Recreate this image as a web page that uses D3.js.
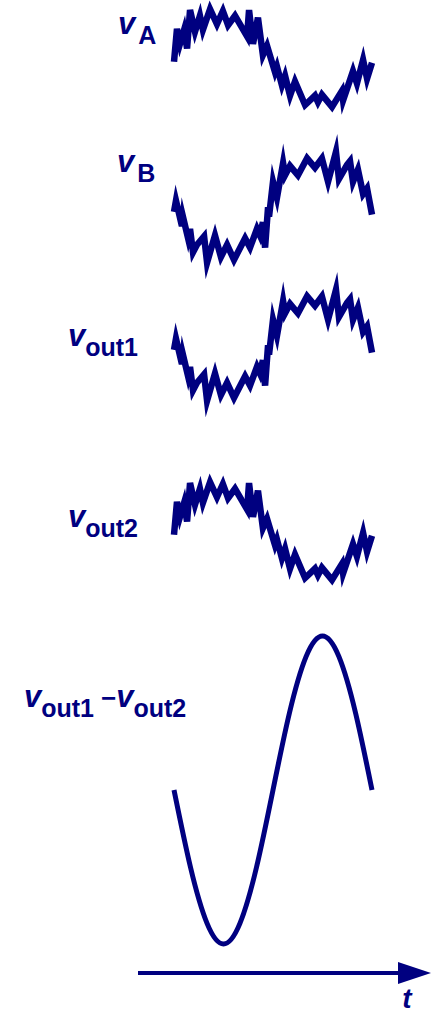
<!DOCTYPE html>
<html>
<head>
<meta charset="utf-8">
<script src="https://cdn.jsdelivr.net/npm/d3@7"></script>
<style>
body { margin: 0; background: #fff; }
svg { display: block; }
text { font-family: "Liberation Sans", Arial, sans-serif; font-weight: bold; fill: #000080; }
</style>
</head>
<body>
<div id="vis"></div>
<script>
// noisy input A (signal + common-mode noise)
var tA = [0, .015, .030, .051, .066, .081, .106, .131, .146, .182, .217, .247, .273, .308, .369, .379, .399, .424, .449, .470,
          .510, .520, .545, .561, .586, .611, .662, .712, .727, .747, .798, .848, .854, .904, .924, .955, .975, 1];
var vA = [-0.08, 0.62, 0.30, 0.60, 0.20, 1.02, 0.56, 0.90, 0.60, 1.04, 0.72, 1.00, 0.70, 0.90, 0.46, 1.02, 0.30, 0.86, 0.06, 0.26,
          -0.30, -0.18, -0.58, -0.38, -0.80, -0.50, -1.00, -0.80, -0.94, -0.78, -1.04, -0.70, -0.90, -0.28, -0.54, -0.04, -0.44, -0.10];

// noisy input B (inverted signal + same noise)
var tB = [0, .010, .040, .045, .071, .081, .096, .116, .152, .167, .207, .237, .268, .303, .359, .384, .419, .434, .449, .460,
          .475, .480, .500, .520, .551, .561, .586, .626, .672, .712, .747, .778, .818, .833, .874, .889, .904, .929, .955, .975, 1];
var vB = [-0.04, 0.20, -0.34, -0.14, -0.60, -0.40, -0.90, -0.74, -0.56, -1.12, -0.54, -1.00, -0.74, -1.06, -0.60, -0.80, -0.40, -0.54, -0.26, -0.80,
          0.06, -0.14, 0.60, 0.26, 1.00, 0.74, 0.94, 0.74, 1.10, 0.90, 1.10, 0.60, 1.24, 0.66, 0.96, 1.04, 0.60, 0.86, 0.34, 0.46, -0.10];

// outputs: vout1 follows vB, vout2 follows vA
var vOut1 = vB, vOut2 = vA;

// difference vout1 - vout2 : noise cancels
var tD = [0, .083, .167, .25, .333, .417, .5, .583, .667, .75, .833, .917, 1];
var vD = [0, -0.5, -0.866, -1, -0.866, -0.5, 0, 0.5, 0.866, 1, 0.866, 0.5, 0];

var labelMain = ["v", "v", "v", "v"];
var labelSub = ["A", "B", "out1", "out2"];
var axisLabel = "t";

var W = 431, H = 1014;
var color = "#000080";

var svg = d3.select("#vis").append("svg")
    .attr("width", W)
    .attr("height", H);

var x = d3.scaleLinear().domain([0, 1]).range([174, 372]);

// one entry per noisy panel
var panels = [
  {t: tA, v: vA, cy: 58,  lx: 118, ly: 34},
  {t: tB, v: vB, cy: 210, lx: 117, ly: 172},
  {t: tB, v: vOut1, cy: 348, lx: 68, ly: 346},
  {t: tA, v: vOut2, cy: 531, lx: 68, ly: 527}
];

panels.forEach(function(p, i) {
  var y = d3.scaleLinear().domain([-1, 1]).range([p.cy + 47, p.cy - 47]);
  var line = d3.line()
      .x(function(d) { return x(d[0]); })
      .y(function(d) { return y(d[1]); });

  svg.append("path")
      .datum(d3.zip(p.t, p.v))
      .attr("d", line)
      .attr("fill", "none")
      .attr("stroke", color)
      .attr("stroke-width", 6.5)
      .attr("stroke-linejoin", "miter")
      .attr("stroke-miterlimit", 6);

  var lab = svg.append("text")
      .attr("x", p.lx)
      .attr("y", p.ly);
  lab.append("tspan")
      .style("font-size", "31px")
      .style("font-style", "italic")
      .text(labelMain[i]);
  lab.append("tspan")
      .style("font-size", "25px")
      .attr("dy", 10)
      .attr("dx", labelSub[i].length == 1 ? 3 : 0)
      .text(labelSub[i]);
});

// difference panel
var yD = d3.scaleLinear().domain([-1, 1]).range([790 + 154, 790 - 154]);
svg.append("path")
    .datum(d3.zip(tD, vD))
    .attr("d", d3.line()
        .curve(d3.curveNatural)
        .x(function(d) { return x(d[0]); })
        .y(function(d) { return yD(d[1]); }))
    .attr("fill", "none")
    .attr("stroke", color)
    .attr("stroke-width", 5);

var dl = svg.append("text").attr("x", 24).attr("y", 707);
dl.append("tspan").style("font-size", "31px").style("font-style", "italic").text("v");
dl.append("tspan").style("font-size", "25px").attr("dy", 10).text("out1");
dl.append("tspan").style("font-size", "26px").attr("dy", -10).attr("dx", 7).text("\u2212");
dl.append("tspan").style("font-size", "31px").style("font-style", "italic").text("v");
dl.append("tspan").style("font-size", "25px").attr("dy", 10).text("out2");

// time axis arrow
svg.append("line")
    .attr("x1", 138).attr("x2", 402)
    .attr("y1", 973).attr("y2", 973)
    .attr("stroke", color)
    .attr("stroke-width", 4);
svg.append("path")
    .attr("d", "M398,962L431,973L398,984Z")
    .attr("fill", color);
svg.append("text")
    .attr("x", 407)
    .attr("y", 1008)
    .attr("text-anchor", "middle")
    .style("font-size", "28px")
    .style("font-style", "italic")
    .text(axisLabel);
</script>
</body>
</html>
